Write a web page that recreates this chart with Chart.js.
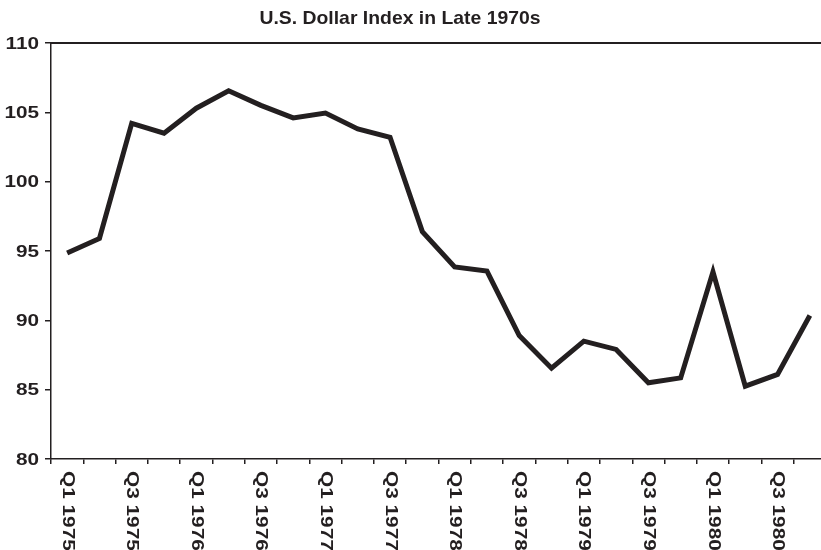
<!DOCTYPE html>
<html>
<head>
<meta charset="utf-8">
<script src="https://cdn.jsdelivr.net/npm/chart.js@4/dist/chart.umd.min.js"></script>
<style>
  html, body { margin: 0; padding: 0; background: #fff; overflow: hidden; width: 821px; height: 550px; }
  #wrap { position: absolute; left: 0; top: 0; width: 826px; height: 550px; }
</style>
</head>
<body>
<div id="wrap"><canvas id="c" width="826" height="550"></canvas></div>
<script>
const chartTitle = 'U.S. Dollar Index in Late 1970s';
const categories = [
  'Q1 1975','Q2 1975','Q3 1975','Q4 1975',
  'Q1 1976','Q2 1976','Q3 1976','Q4 1976',
  'Q1 1977','Q2 1977','Q3 1977','Q4 1977',
  'Q1 1978','Q2 1978','Q3 1978','Q4 1978',
  'Q1 1979','Q2 1979','Q3 1979','Q4 1979',
  'Q1 1980','Q2 1980','Q3 1980','Q4 1980'
];
const dollarIndex = [
  94.85, 95.9, 104.2, 103.5,
  105.3, 106.55, 105.5, 104.6,
  104.95, 103.8, 103.2, 96.4,
  93.85, 93.55, 88.9, 86.55,
  88.5, 87.9, 85.5, 85.85,
  93.5, 85.25, 86.1, 90.35
];
const yTickValues = [80, 85, 90, 95, 100, 105, 110];
const shownLabelEvery = 2;

const ink = '#231f20';
const fontFamily = '"Liberation Sans", Arial, Helvetica, sans-serif';

const decor = {
  id: 'decor',
  afterDraw(chart) {
    const ctx = chart.ctx;
    const a = chart.chartArea;
    const xs = chart.scales.x;
    const ys = chart.scales.y;
    ctx.save();
    // top frame line
    ctx.strokeStyle = ink;
    ctx.lineWidth = 2;
    ctx.beginPath();
    ctx.moveTo(a.left, a.top);
    ctx.lineTo(a.right + 2, a.top);
    ctx.stroke();
    ctx.fillStyle = ink;
    // title
    ctx.font = 'bold 19px ' + fontFamily;
    ctx.textAlign = 'center';
    ctx.textBaseline = 'middle';
    ctx.save();
    ctx.translate(400, 19);
    ctx.scale(1.02, 1);
    ctx.fillText(chartTitle, 0, 0);
    ctx.restore();
    // y tick labels (wide face)
    ctx.font = 'bold 17px ' + fontFamily;
    ctx.textAlign = 'right';
    ctx.textBaseline = 'middle';
    yTickValues.forEach(v => {
      const y = ys.getPixelForValue(v);
      ctx.save();
      ctx.translate(39, y + 1);
      ctx.scale(1.22, 1);
      ctx.fillText(String(v), 0, 0);
      ctx.restore();
    });
    // x labels, rotated clockwise (reading top to bottom)
    ctx.font = 'bold 16px ' + fontFamily;
    ctx.textAlign = 'left';
    ctx.textBaseline = 'middle';
    categories.forEach((lab, i) => {
      if (i % shownLabelEvery !== 0) return;
      const x = xs.getPixelForValue(i);
      ctx.save();
      ctx.translate(x, a.bottom + 12);
      ctx.rotate(Math.PI / 2);
      ctx.scale(1.3, 1);
      ctx.fillText(lab, 0, 0);
      ctx.restore();
    });
    ctx.restore();
  }
};

new Chart(document.getElementById('c'), {
  type: 'line',
  data: {
    labels: categories,
    datasets: [{
      data: dollarIndex,
      borderColor: ink,
      borderWidth: 5,
      borderJoinStyle: 'miter',
      borderCapStyle: 'butt',
      pointRadius: 0,
      tension: 0,
      fill: false
    }]
  },
  options: {
    responsive: false,
    animation: false,
    devicePixelRatio: 1,
    layout: { padding: { top: 43, left: 0, right: 0, bottom: 0 } },
    plugins: {
      legend: { display: false },
      title: { display: false },
      tooltip: { enabled: false }
    },
    scales: {
      x: {
        offset: true,
        ticks: { display: false, autoSkip: false },
        grid: { offset: true, drawOnChartArea: false, tickLength: 5, color: ink, lineWidth: 1.5 },
        border: { color: ink, width: 1.5 },
        afterFit(s) { s.height = 91; }
      },
      y: {
        min: yTickValues[0], max: yTickValues[yTickValues.length - 1],
        ticks: { display: false, stepSize: yTickValues[1] - yTickValues[0] },
        grid: { drawOnChartArea: false, tickLength: 6, color: ink, lineWidth: 1.5 },
        border: { color: ink, width: 1.5 },
        afterFit(s) { s.width = 51; }
      }
    }
  },
  plugins: [decor]
});
</script>
</body>
</html>
